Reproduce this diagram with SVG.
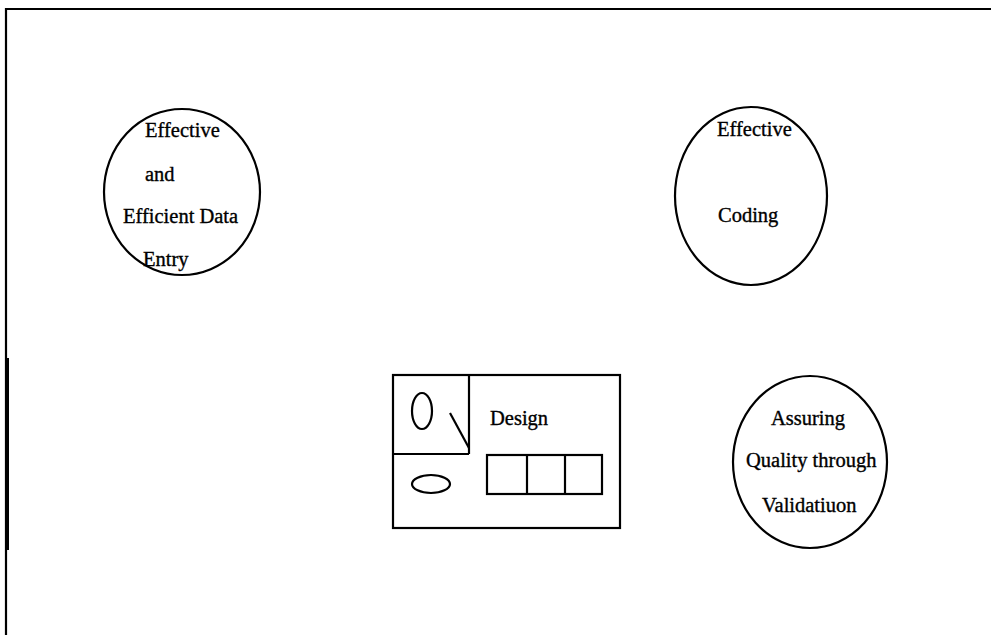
<svg xmlns="http://www.w3.org/2000/svg" width="991" height="635" viewBox="0 0 991 635">
<style>
.s{fill:none;stroke:#000;stroke-width:2.2}
.t{font-family:"Liberation Serif","Times New Roman",serif;font-size:20.5px;fill:#000;stroke:#000;stroke-width:0.35}
</style>
<rect width="991" height="635" fill="#fff"/>
<g id="frame">
<path class="s" d="M6,635 V9 H991" stroke-width="2.5"/>
<line x1="7" y1="358" x2="7" y2="550" stroke="#000" stroke-width="4"/>
</g>
<g id="node-data-entry">
<ellipse class="s" cx="182" cy="192" rx="78" ry="83"/>
<text class="t" x="145" y="137">Effective</text>
<text class="t" x="145" y="181">and</text>
<text class="t" x="123" y="223">Efficient Data</text>
<text class="t" x="143" y="266">Entry</text>
</g>
<g id="node-coding">
<ellipse class="s" cx="751" cy="196" rx="76" ry="89"/>
<text class="t" x="717" y="136">Effective</text>
<text class="t" x="718" y="222">Coding</text>
</g>
<g id="node-design">
<rect class="s" x="393" y="375" width="227" height="153"/>
<line class="s" x1="469" y1="375" x2="469" y2="454"/>
<line class="s" x1="393" y1="454" x2="469" y2="454"/>
<ellipse class="s" cx="422" cy="411" rx="10" ry="18"/>
<line class="s" x1="450" y1="413" x2="469" y2="448"/>
<ellipse class="s" cx="431" cy="484" rx="19" ry="9"/>
<rect class="s" x="487" y="455" width="115" height="39"/>
<line class="s" x1="527" y1="455" x2="527" y2="494"/>
<line class="s" x1="565" y1="455" x2="565" y2="494"/>
<text class="t" x="490" y="425">Design</text>
</g>
<g id="node-validation">
<ellipse class="s" cx="810" cy="462" rx="77" ry="86"/>
<text class="t" x="771" y="425">Assuring</text>
<text class="t" x="746" y="467" font-size="21">Quality through</text>
<text class="t" x="762" y="512">Validatiuon</text>
</g>
<g id="connectors"></g>
</svg>
